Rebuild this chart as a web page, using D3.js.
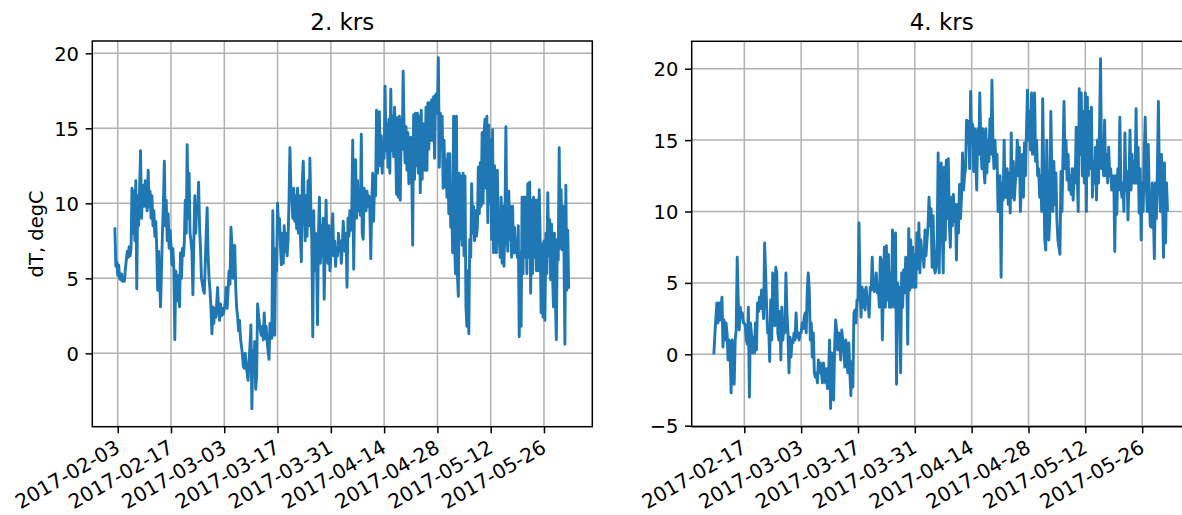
<!DOCTYPE html>
<html>
<head>
<meta charset="utf-8">
<script src="https://cdn.jsdelivr.net/npm/d3@7"></script>
<style>
  body { margin: 0; background: #fff; }
  text { font-family: "DejaVu Sans", sans-serif; fill: #000; }
</style>
</head>
<body>
<div id="chart"></div>
<script>
// readings every 6 hours
const stepHours = 6;
const krs2Start = "2017-02-02T06:00";
const krs4Start = "2017-02-09T12:00";

const krs2Values = [
  8.4, 5.8, 6.1,
  5.2, 5.9, 5.0, 4.9, 5.3, 4.8, 5.0, 4.8, 5.6, 6.2, 6.8, 6.4, 7.1, 6.5, 7.0,
  11.0, 8.0, 10.8, 7.5, 11.5, 4.3, 10.5, 8.5, 11.0, 13.5, 9.0, 10.5, 11.2, 9.8,
  11.5, 10.2, 9.5, 12.2, 9.8, 10.8, 9.0, 10.5, 8.5, 9.5, 7.8, 8.8, 7.0, 4.2, 6.8, 5.0, 3.1,
  5.5, 8.0, 10.0, 12.8, 8.5, 10.2, 7.5, 9.3, 7.0, 8.2,
  7.2, 5.9, 7.0, 5.6, 0.9, 5.5, 4.8, 3.5, 5.2, 3.1, 6.7, 5.0,
  7.0, 6.5, 7.4, 10.2, 8.0, 13.9, 9.0, 12.0, 8.0, 7.5, 6.8, 3.9, 7.5, 10.5, 8.0,
  10.0, 9.5, 11.4, 8.5, 7.0, 5.0, 4.6, 4.2, 4.0, 6.0, 8.0, 9.7, 6.5, 5.0,
  4.2, 3.0, 1.3, 3.1, 2.0, 3.0, 2.4, 3.3, 4.4, 2.8, 2.2, 3.3, 2.5, 3.0, 2.6,
  3.0, 3.3, 4.4, 3.0, 4.2, 5.5, 4.6, 8.4, 7.2, 5.0, 6.2, 7.2, 4.4, 3.0,
  2.5, 1.5, 2.2, 1.0, 0.5, 0.0, -0.9, -1.0, 0.0, -0.8, -1.3, -1.8, -0.5, 0.5,
  1.9, -3.7, 0.2, -1.0, 0.8, -2.4, -1.5, 3.3, 2.5, 2.0, 1.5, 1.2, 1.8, 0.9,
  2.7, 1.0, 1.8, 0.8, 0.2, -0.4, 2.0, 1.2, 1.0, 9.5, 4.0, 1.2, 7.0, 5.5,
  10.0, 8.5, 9.0, 7.2, 5.9, 8.0, 6.0, 8.5, 6.8, 8.0, 6.5, 7.5, 10.0, 13.7,
  11.0, 10.5, 9.0, 11.0, 8.8, 10.5, 8.3, 11.0, 8.0, 10.5, 7.8, 6.1, 11.5, 12.8,
  10.0, 7.5, 10.5, 7.8, 11.5, 8.5, 13.0, 9.5, 7.5, 1.1, 9.5, 5.5, 8.0, 6.0,
  1.9, 8.0, 10.4, 6.0, 8.5, 6.5, 9.0, 3.6, 7.0, 10.2, 6.5, 6.0, 8.5, 5.5,
  6.5, 8.0, 9.3, 6.5, 7.5, 5.8, 7.0, 6.5, 8.0, 6.8, 7.5, 6.0, 7.0, 8.8,
  7.5, 6.8, 8.0, 4.4, 9.0, 7.8, 9.5, 8.2, 9.5, 14.2, 5.6, 10.5, 12.9, 9.0,
  11.5, 9.5, 10.0, 9.2, 14.6, 8.0, 7.6, 11.0, 10.2, 9.5, 10.8, 9.8, 10.5, 9.5,
  6.3, 10.0, 12.0, 8.8, 11.8, 10.5, 16.2, 12.0, 13.5, 16.1, 12.5, 14.5, 12.0, 13.8,
  13.0, 17.8, 13.5, 15.3, 12.4, 15.6, 12.0, 17.6, 13.5, 15.8, 13.1, 16.4, 14.2, 10.6,
  15.7, 10.4, 15.8, 10.2, 15.6, 13.6, 18.8, 14.9, 12.7, 15.1, 12.2, 14.7, 11.3, 13.5,
  14.4, 12.2, 7.2, 15.9, 11.6, 16.0, 12.5, 16.0, 12.0, 15.8, 10.7, 16.2, 11.6, 15.3,
  14.7, 12.2, 16.4, 12.2, 16.7, 13.6, 16.7, 14.2, 16.9, 14.2, 17.1, 13.0, 17.2, 17.3,
  16.0, 19.7, 12.4, 16.0, 13.6, 15.8, 11.0, 14.2, 11.1, 12.9, 10.4, 13.3, 9.3, 13.3,
  8.4, 10.2, 6.7, 15.8, 7.6, 5.3, 15.8, 5.3, 3.8, 12.0, 7.6, 11.8, 7.2, 12.0,
  6.5, 11.8, 3.1, 1.8, 5.5, 1.3, 7.6, 6.4, 11.3, 8.0, 9.8, 7.5, 9.5, 7.8,
  8.4, 12.4, 9.3, 12.7, 9.8, 14.7, 10.0, 14.7, 15.6, 11.0, 15.8, 8.7, 15.2, 10.0,
  14.2, 7.6, 14.9, 6.7, 12.5, 8.0, 6.7, 12.2, 8.4, 7.6, 6.4, 10.4, 6.0, 9.8,
  5.8, 9.0, 15.1, 8.0, 6.8, 10.8, 7.6, 9.8, 6.4, 9.8, 6.7, 8.4, 6.7, 7.5,
  6.4, 8.5, 1.1, 6.7, 1.8, 10.4, 5.3, 10.4, 6.4, 10.4, 5.3, 11.3, 6.4, 11.4,
  4.0, 10.2, 5.3, 10.4, 6.4, 10.2, 5.5, 10.2, 5.5, 10.9, 7.6, 2.7, 7.3, 2.4,
  7.5, 2.2, 8.0, 5.3, 10.7, 6.5, 8.9, 4.9, 8.6, 5.3, 3.1, 8.0, 3.6, 0.9,
  7.6, 6.2, 13.7, 7.0, 10.9, 6.9, 9.8, 6.7, 0.6, 11.2, 4.2, 8.2, 4.3
];

const krs4Values = [
  0.0, 1.4, 2.6, 3.6, 2.2, 3.6, 2.4, 3.3, 4.0, 0.5, 2.4, 1.0, 2.2, 1.5, -0.4,
  1.0, 0.1, -2.7, 1.0, -1.3, -2.1, 1.0, 1.7, 6.8, 3.8, 1.7, 3.3, 2.6, 2.9, 2.2,
  2.2, 2.0, 1.0, 0.7, 3.3, -3.0, 2.2, 1.5, 0.1, 1.2, 0.1, 2.2, 0.3, 3.6,
  3.0, 4.0, 3.2, 4.5, 3.6, 2.5, 7.8, 5.7, 3.3, 1.5, 2.0, -0.5, 3.8, 1.0,
  5.7, 4.5, 2.0, 6.1, 5.7, 1.5, 1.0, 3.0, -0.4, 3.3, 1.0, 2.2, 1.5, 5.7,
  3.0, 1.5, -1.3, 1.2, -0.2, 1.0, 0.8, 1.5, 1.0, 2.9, 1.2, 1.5, 1.0, 1.5,
  1.5, 2.2, 1.8, 2.6, 2.9, 1.5, 4.5, 5.7, 4.5, 1.0, 2.2, -0.2, 1.5, -1.3,
  -1.6, -1.3, -2.0, -0.4, -1.3, -0.6, -1.3, -2.0, -0.6, -1.3, -2.0, -1.0, -2.4, -1.5,
  1.0, -3.8, 0.1, -1.0, -3.2, 0.5, 2.4, 1.7, 0.3, 1.5, 1.0, -0.4, 1.7, 1.0,
  0.5, -0.9, 1.0, -0.4, -1.3, 0.8, -1.3, -2.9, -0.5, -2.3, 2.9, 3.1, 2.2, 3.8,
  3.8, 9.2, 4.7, 2.6, 4.7, 3.3, 4.5, 3.1, 4.7, 3.8, 3.6, 2.6, 4.7, 4.5,
  6.8, 4.9, 4.4, 4.7, 5.7, 4.3, 4.9, 3.3, 6.8, 6.6, 1.0, 4.5, 7.5, 3.3,
  7.6, 3.8, 7.0, 3.3, 5.7, 3.3, 8.7, 5.7, 3.3, 8.5, -2.1, 5.0, 3.3, 4.7,
  -1.3, 5.7, 3.3, 5.9, 4.3, 6.8, 5.7, 0.7, 8.8, 4.5, 8.0, 4.7, 7.5, 4.7,
  7.0, 4.7, 8.5, 6.0, 9.2, 5.7, 8.0, 6.9, 7.0, 6.1, 8.7, 6.9, 8.0, 8.9,
  11.0, 9.0, 10.2, 6.1, 9.7, 6.1, 5.7, 6.1, 8.0, 14.1, 5.7, 10.2, 13.4, 9.0,
  5.7, 13.1, 8.0, 13.6, 9.5, 13.7, 9.2, 7.5, 11.0, 9.0, 11.2, 9.3, 10.5, 6.6,
  10.5, 8.5, 11.9, 9.5, 11.0, 14.1, 11.5, 12.5, 13.1, 16.4, 14.8, 16.3, 13.0, 18.4,
  14.8, 16.1, 12.8, 15.8, 13.5, 11.5, 15.8, 14.0, 18.3, 15.0, 13.0, 15.8, 13.0, 12.0,
  15.8, 12.7, 15.0, 13.5, 16.5, 14.0, 19.2, 14.6, 13.0, 15.0, 13.1, 14.0, 10.0, 11.2,
  12.5, 5.4, 12.0, 10.8, 15.0, 11.0, 11.0, 13.0, 10.5, 12.7, 9.9, 15.5, 11.0, 13.5,
  10.8, 12.0, 12.9, 15.0, 12.5, 14.5, 10.0, 12.0, 14.0, 11.0, 14.8, 12.5, 15.7, 18.5,
  15.0, 17.0, 14.3, 18.3, 14.0, 16.0, 18.3, 13.5, 15.0, 12.5, 13.0, 11.0, 12.5, 10.0,
  17.9, 12.8, 8.0, 7.3, 15.0, 11.0, 8.0, 9.5, 17.0, 12.8, 10.0, 13.5, 10.5, 12.7,
  9.4, 8.0, 7.5, 7.0, 12.8, 10.0, 14.0, 17.7, 13.0, 15.0, 12.2, 14.0, 11.5, 12.5,
  11.2, 13.0, 10.8, 13.0, 12.0, 15.9, 12.5, 10.0, 18.6, 14.0, 18.3, 12.5, 17.0, 12.0,
  18.3, 10.0, 18.0, 12.5, 17.0, 13.0, 17.3, 11.0, 13.5, 12.0, 14.5, 10.8, 15.0, 12.0,
  16.0, 20.7, 13.0, 15.0, 12.5, 16.4, 12.5, 14.0, 12.0, 14.5, 12.5, 13.0, 11.5, 12.0,
  12.5, 7.2, 12.5, 9.8, 13.0, 11.5, 16.6, 12.0, 11.0, 12.0, 10.0, 15.5, 11.5, 12.8,
  9.4, 12.0, 15.7, 11.5, 14.0, 12.0, 13.5, 12.0, 17.2, 12.0, 14.5, 9.9, 13.0, 8.0,
  12.0, 10.0, 14.0, 16.6, 12.0, 10.0, 14.7, 11.0, 9.0, 8.9, 12.0, 10.0, 6.7, 12.0,
  9.5, 13.0, 17.7, 12.0, 10.0, 14.0, 11.5, 6.8, 13.4, 7.8, 12.0, 10.0
];

const krs2Ticks = ["2017-02-03", "2017-02-17", "2017-03-03", "2017-03-17", "2017-03-31",
                   "2017-04-14", "2017-04-28", "2017-05-12", "2017-05-26"];
const krs4Ticks = ["2017-02-17", "2017-03-03", "2017-03-17", "2017-03-31",
                   "2017-04-14", "2017-04-28", "2017-05-12", "2017-05-26"];
const krs2YTicks = [0, 5, 10, 15, 20];
const krs4YTicks = [-5, 0, 5, 10, 15, 20];

const parseDay = d3.timeParse("%Y-%m-%d");
const parseTime = d3.timeParse("%Y-%m-%dT%H:%M");

function toSeries(start, values) {
  const t0 = parseTime(start);
  return values.map((v, i) => ({ date: new Date(+t0 + i * stepHours * 3600e3), value: v }));
}

const panels = [
  { title: "2. krs", ylabel: "dT, degC", data: toSeries(krs2Start, krs2Values),
    xTicks: krs2Ticks, yTicks: krs2YTicks,
    xDomain: ["2017-01-27T07:40", "2017-06-07T16:48"], yDomain: [-4.89, 20.82],
    left: 92.3, top: 41, bottom: 426.7 },
  { title: "4. krs", ylabel: null, data: toSeries(krs4Start, krs4Values),
    xTicks: krs4Ticks, yTicks: krs4YTicks,
    xDomain: ["2017-02-04T01:00", "2017-06-07T04:48"], yDomain: [-5.07, 21.92],
    left: 691.7, top: 41.3, bottom: 426.7 }
];

const W = 1182, H = 515, plotW = 500;
const fontSize = 19.5, tickLen = 6.65, tickPad = 6.65;

const svg = d3.select("#chart").append("svg")
    .attr("width", W).attr("height", H)
    .style("display", "block");
svg.append("rect").attr("width", W).attr("height", H).attr("fill", "#fff");

panels.forEach(function(p, k) {
  const right = p.left + plotW;
  const x = d3.scaleTime().domain(p.xDomain.map(parseTime)).range([p.left, right]);
  const y = d3.scaleLinear().domain(p.yDomain).range([p.bottom, p.top]);
  const xt = p.xTicks.map(parseDay);

  const g = svg.append("g");

  // grid
  g.append("g").selectAll("line").data(xt).join("line")
      .attr("x1", d => x(d)).attr("x2", d => x(d))
      .attr("y1", p.top).attr("y2", p.bottom)
      .attr("stroke", "#b0b0b0").attr("stroke-width", 1.5);
  g.append("g").selectAll("line").data(p.yTicks).join("line")
      .attr("x1", p.left).attr("x2", right)
      .attr("y1", d => y(d)).attr("y2", d => y(d))
      .attr("stroke", "#b0b0b0").attr("stroke-width", 1.5);

  // line
  const clipId = "clip" + k;
  svg.append("clipPath").attr("id", clipId).append("rect")
      .attr("x", p.left).attr("y", p.top)
      .attr("width", plotW).attr("height", p.bottom - p.top);

  const line = d3.line().x(d => x(d.date)).y(d => y(d.value));
  g.append("path")
      .datum(p.data)
      .attr("clip-path", `url(#${clipId})`)
      .attr("fill", "none")
      .attr("stroke", "#1f77b4")
      .attr("stroke-width", 2.9)
      .attr("stroke-linejoin", "round")
      .attr("d", line);

  // spines
  g.append("rect")
      .attr("x", p.left).attr("y", p.top)
      .attr("width", plotW).attr("height", p.bottom - p.top)
      .attr("fill", "none").attr("stroke", "#000").attr("stroke-width", 1.5);

  // y axis
  const yAxis = g.append("g")
      .attr("transform", `translate(${p.left},0)`)
      .call(d3.axisLeft(y).tickValues(p.yTicks).tickSize(tickLen).tickPadding(tickPad)
              .tickFormat(d3.format("d")));
  yAxis.select(".domain").remove();
  yAxis.selectAll("line").attr("stroke", "#000").attr("stroke-width", 1.5);
  yAxis.selectAll("text").attr("font-size", fontSize)
      .attr("font-family", "DejaVu Sans").attr("dy", "0.36em");

  // x axis, labels rotated like autofmt_xdate
  const xAxis = g.append("g")
      .attr("transform", `translate(0,${p.bottom})`)
      .call(d3.axisBottom(x).tickValues(xt).tickSize(tickLen)
              .tickFormat(d3.timeFormat("%Y-%m-%d")));
  xAxis.select(".domain").remove();
  xAxis.selectAll("line").attr("stroke", "#000").attr("stroke-width", 1.5);
  xAxis.selectAll("text")
      .attr("font-size", 20).attr("font-family", "DejaVu Sans")
      .attr("y", null).attr("dy", null)
      .attr("text-anchor", "end")
      .attr("transform", "translate(3,24.8) rotate(-30)");

  // title
  g.append("text")
      .attr("x", p.left + plotW / 2).attr("y", 29.6)
      .attr("text-anchor", "middle")
      .attr("font-size", 23)
      .text(p.title);

  if (p.ylabel) {
    g.append("text")
        .attr("transform", `translate(43,${(p.top + p.bottom) / 2}) rotate(-90)`)
        .attr("text-anchor", "middle")
        .attr("font-size", fontSize)
        .text(p.ylabel);
  }
});
</script>
</body>
</html>
